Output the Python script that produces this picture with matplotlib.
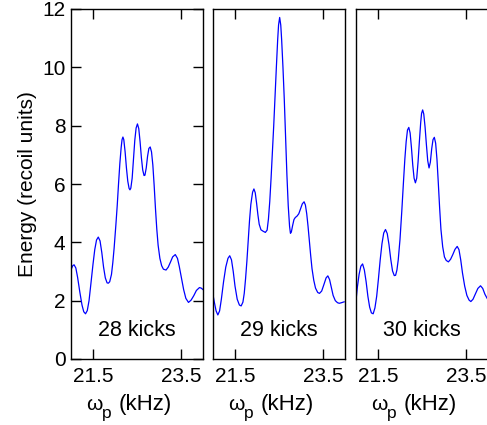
import numpy as np
import matplotlib
matplotlib.use("Agg")
import matplotlib.pyplot as plt
from matplotlib.transforms import blended_transform_factory

plt.rcParams['font.family'] = ['Liberation Sans', 'DejaVu Sans']

# Data (frequency in kHz, energy in recoil units)
freq_28 = [21.00, 21.04, 21.07, 21.11, 21.15, 21.20, 21.25, 21.29, 21.33, 21.37,
           21.41, 21.45, 21.50, 21.54, 21.58, 21.62, 21.66, 21.70, 21.74, 21.78,
           21.82, 21.85, 21.88, 21.92, 21.95, 21.98, 22.02, 22.05, 22.08, 22.11,
           22.14, 22.16, 22.18, 22.20, 22.23, 22.26, 22.29, 22.32, 22.34, 22.36,
           22.39, 22.42, 22.45, 22.48, 22.51, 22.54, 22.57, 22.60, 22.63, 22.66,
           22.68, 22.71, 22.74, 22.77, 22.80, 22.83, 22.86, 22.89, 22.92, 22.95,
           22.98, 23.02, 23.06, 23.10, 23.16, 23.21, 23.26, 23.31, 23.37, 23.42,
           23.46, 23.51, 23.56, 23.61, 23.67, 23.73, 23.79, 23.85, 23.92, 23.96,
           24.00]
energy_28 = [3.06, 3.20, 3.23, 3.12, 2.80, 2.30, 1.85, 1.62, 1.55, 1.66,
             2.00, 2.55, 3.25, 3.75, 4.08, 4.18, 4.05, 3.65, 3.15, 2.78,
             2.61, 2.60, 2.65, 2.90, 3.30, 3.80, 4.60, 5.25, 6.00, 6.70,
             7.25, 7.52, 7.61, 7.52, 7.10, 6.55, 6.10, 5.85, 5.80, 5.86,
             6.20, 6.85, 7.50, 7.92, 8.06, 7.90, 7.45, 6.90, 6.48, 6.29,
             6.30, 6.55, 6.95, 7.22, 7.27, 7.10, 6.65, 5.95, 5.15, 4.45,
             3.90, 3.45, 3.20, 3.08, 3.05, 3.15, 3.32, 3.50, 3.58, 3.45,
             3.18, 2.78, 2.38, 2.08, 1.94, 2.02, 2.17, 2.35, 2.45, 2.43,
             2.38]

freq_29 = [21.00, 21.03, 21.07, 21.11, 21.15, 21.19, 21.24, 21.29, 21.34, 21.38,
           21.42, 21.46, 21.50, 21.55, 21.60, 21.64, 21.68, 21.71, 21.74, 21.77,
           21.80, 21.83, 21.86, 21.90, 21.93, 21.96, 21.99, 22.02, 22.05, 22.09,
           22.14, 22.19, 22.23, 22.26, 22.29, 22.32, 22.35, 22.38, 22.41, 22.44,
           22.47, 22.49, 22.515, 22.54, 22.56, 22.59, 22.62, 22.65, 22.68, 22.71,
           22.74, 22.76, 22.78, 22.81, 22.84, 22.87, 22.91, 22.95, 22.99, 23.03,
           23.07, 23.10, 23.13, 23.16, 23.19, 23.22, 23.25, 23.29, 23.33, 23.38,
           23.42, 23.47, 23.52, 23.57, 23.61, 23.65, 23.69, 23.73, 23.78, 23.83,
           23.87, 23.92, 23.98]
energy_29 = [2.20, 1.95, 1.65, 1.51, 1.65, 2.05, 2.65, 3.15, 3.45, 3.54,
             3.40, 3.00, 2.50, 2.05, 1.85, 1.82, 1.95, 2.25, 2.75, 3.35,
             4.05, 4.75, 5.30, 5.72, 5.83, 5.70, 5.35, 4.95, 4.62, 4.43,
             4.38, 4.34, 4.42, 4.80, 5.40, 6.20, 7.10, 8.00, 9.00, 10.00,
             10.95, 11.45, 11.71, 11.45, 10.95, 10.00, 8.90, 7.60, 6.30, 5.25,
             4.55, 4.31, 4.35, 4.58, 4.78, 4.85, 4.90, 4.98, 5.15, 5.32,
             5.39, 5.28, 4.98, 4.55, 4.05, 3.55, 3.10, 2.70, 2.43, 2.28,
             2.25, 2.33, 2.55, 2.78, 2.85, 2.72, 2.45, 2.18, 2.00, 1.93,
             1.91, 1.93, 1.96]

freq_30 = [21.00, 21.03, 21.07, 21.11, 21.15, 21.19, 21.23, 21.27, 21.31, 21.35,
           21.39, 21.43, 21.47, 21.51, 21.55, 21.59, 21.63, 21.67, 21.71, 21.75,
           21.79, 21.83, 21.87, 21.90, 21.93, 21.96, 22.00, 22.04, 22.08, 22.11,
           22.14, 22.17, 22.20, 22.23, 22.26, 22.29, 22.32, 22.35, 22.38, 22.41,
           22.44, 22.47, 22.49, 22.515, 22.54, 22.57, 22.60, 22.63, 22.66, 22.69,
           22.72, 22.75, 22.78, 22.81, 22.84, 22.87, 22.90, 22.93, 22.97, 23.01,
           23.05, 23.10, 23.15, 23.20, 23.25, 23.30, 23.34, 23.38, 23.42, 23.47,
           23.52, 23.57, 23.61, 23.66, 23.71, 23.77, 23.83, 23.88, 23.93, 23.98]
energy_30 = [2.00, 2.45, 2.90, 3.18, 3.26, 3.05, 2.65, 2.15, 1.78, 1.58,
             1.55, 1.75, 2.15, 2.75, 3.40, 3.95, 4.32, 4.44, 4.30, 3.92,
             3.42, 3.02, 2.86, 2.87, 3.05, 3.40, 4.10, 5.05, 6.10, 6.85,
             7.45, 7.85, 7.94, 7.75, 7.25, 6.65, 6.20, 6.04, 6.20, 6.75,
             7.45, 8.10, 8.42, 8.54, 8.40, 7.95, 7.35, 6.80, 6.55, 6.75,
             7.20, 7.52, 7.60, 7.40, 6.85, 6.05, 5.20, 4.45, 3.85, 3.50,
             3.38, 3.33, 3.42, 3.58, 3.76, 3.86, 3.75, 3.40, 2.95, 2.50,
             2.18, 2.02, 1.97, 2.05, 2.22, 2.42, 2.51, 2.42, 2.22, 2.08]

freqs = [freq_28, freq_29, freq_30]
energies = [energy_28, energy_29, energy_30]
labels = ['28 kicks', '29 kicks', '30 kicks']
lefts = [71, 213, 356]

fig = plt.figure(figsize=(4.87, 4.25), dpi=100)
for k in range(3):
    ax = fig.add_axes([lefts[k] / 487, 66 / 425, 132 / 487, 350 / 425])
    ax.plot(freqs[k], energies[k], color='#0000ff', lw=0.9)
    ax.set_xlim(21.0, 24.0)
    ax.set_ylim(0, 12)
    ax.set_xticks([21.5, 23.5])
    ax.set_xticklabels(['21.5', '23.5'])
    ax.tick_params(axis='x', direction='in', top=True, length=7.2, width=1.0,
                   labelsize=15, pad=5.5)
    if k == 0:
        ax.set_yticks(range(0, 13, 2))
        ax.tick_params(axis='y', direction='in', right=True, length=7.2, width=1.0,
                       labelsize=15, pad=4)
        ax.set_ylabel('Energy (recoil units)', fontsize=15, labelpad=4)
    else:
        ax.set_yticks([])
    for s in ax.spines.values():
        s.set_linewidth(1.0)

    # x label: omega with a low subscript p, then the unit
    tr = blended_transform_factory(ax.transAxes, fig.transFigure)
    ax.text(15 / 132, 15 / 425, 'ω', transform=tr, fontsize=15,
            ha='left', va='baseline')
    ax.text(31 / 132, 7 / 425, 'p', transform=tr, fontsize=12.5,
            ha='left', va='baseline')
    ax.text(48 / 132, 15 / 425, '(kHz)', transform=tr, fontsize=16,
            ha='left', va='baseline')

    ax.text(22.5, 0.98, labels[k], ha='center', va='center', fontsize=15.5)

fig.savefig('out.png', dpi=100)
